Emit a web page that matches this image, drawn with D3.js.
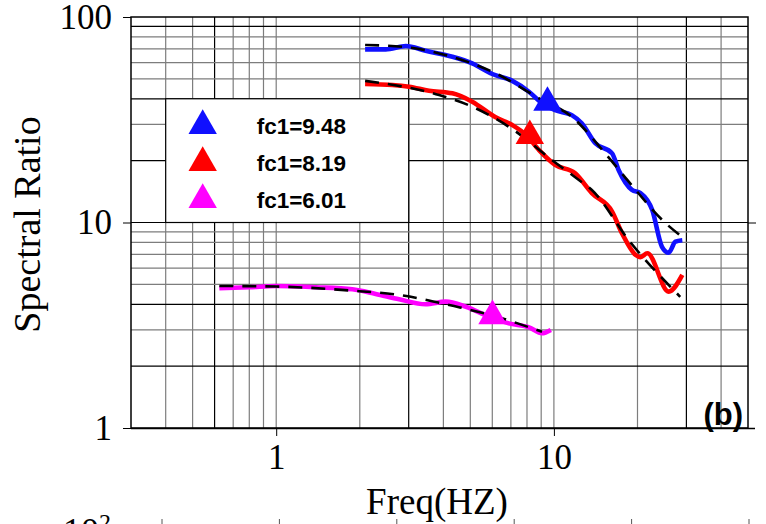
<!DOCTYPE html>
<head>
  <meta charset="utf-8">
  <script src="https://cdn.jsdelivr.net/npm/d3@7"></script>
  <style>
    body { margin: 0; background: #fff; }
    svg { display: block; }
  </style>
</head>
<body>
<div id="chart"></div>
<script>
const freqBlue = [2.09, 2.48, 2.93, 3.45, 4.31, 5.08, 6.0, 7.08, 8.13, 9.08, 10.1, 11.6, 12.6, 14.1, 16.2, 17.1, 19.1, 20.5, 22.6, 24.5, 25.9, 27.4, 29.0]
const ratioBlue = [69.6, 69.6, 72.2, 68.5, 64.1, 59.5, 52.8, 48.9, 43.3, 38.0, 35.2, 33.3, 30.4, 24.3, 21.7, 18.0, 14.4, 13.9, 11.5, 7.62, 7.13, 8.07, 8.2]

const freqRed = [2.09, 2.62, 3.01, 3.55, 4.31, 5.08, 6.17, 7.08, 7.93, 8.84, 10.1, 11.9, 13.7, 16.2, 17.6, 19.7, 20.5, 21.7, 25.9, 29.0]
const ratioRed = [47.2, 46.7, 45.8, 43.8, 42.5, 38.7, 32.5, 29.8, 26.7, 22.5, 19.1, 17.4, 13.9, 11.3, 8.85, 6.95, 6.78, 7.08, 4.61, 5.56]

const freqMag = [0.624, 0.80, 1.0, 1.39, 1.88, 2.28, 2.77, 3.45, 4.08, 4.82, 5.84, 6.88, 8.14, 9.06, 9.75]
const ratioMag = [4.79, 4.84, 4.91, 4.84, 4.73, 4.49, 4.23, 4.0, 4.12, 3.89, 3.48, 3.23, 3.09, 2.89, 3.0]

// fitted curves (dashed)
const fitFreqBlue = [2.09, 2.93, 4.19, 6.17, 8.84, 11.6, 15.3, 18.6, 25.3, 29.0]
const fitBlue = [73.1, 71.3, 64.6, 53.2, 40.2, 32.7, 21.7, 15.8, 9.9, 8.5]
const fitFreqRed = [2.09, 3.86, 5.08, 7.08, 9.86, 12.3, 13.7, 18.6, 28.5]
const fitRed = [48.9, 41.7, 36.6, 28.5, 20.1, 16.1, 14.4, 8.2, 4.35]
const fitFreqMag = [0.624, 1.0, 1.83, 2.77, 4.55, 5.9, 9.06]
const fitMag = [4.91, 4.88, 4.67, 4.44, 3.87, 3.55, 2.94]

// corner frequencies
const fcValues = [9.48, 8.19, 6.01]
const fcRatios = [38.3, 26.4, 3.51]
const fcLabels = ['fc1=9.48', 'fc1=8.19', 'fc1=6.01']
const colors = ['#1010ff', '#ff0000', '#ff00ff']

const xTicks = [1, 10]
const yTicks = [1, 10, 100]
const xGrid = [0.4, 0.5, 0.6, 0.7, 0.8, 0.9, 1, 2, 3, 4, 5, 6, 7, 8, 9, 10, 20, 30, 40]
const xGridDark = [0.6, 3, 30]
const yGrid = [2, 3, 4, 5, 6, 7, 8, 9, 10, 20, 30, 40, 50, 60, 70, 80, 90]
const yGridDark = [2, 4, 10, 20, 40, 90]

const width = 766, height = 524
const margin = { top: 17, right: 18, bottom: 96, left: 131 }

const svg = d3.select('#chart').append('svg')
  .attr('width', width).attr('height', height)
  .attr('viewBox', [0, 0, width, height])

const x = d3.scaleLog().domain([0.3, 50]).range([margin.left, width - margin.right])
const y = d3.scaleLog().domain([1, 100]).range([height - margin.bottom, margin.top])

const serif = '"Liberation Serif", "Times New Roman", serif'
const sans = '"Liberation Sans", Arial, sans-serif'

// grid
const grid = svg.append('g')
grid.selectAll('.vx').data(xGrid).join('line')
  .attr('x1', d => x(d)).attr('x2', d => x(d))
  .attr('y1', y(1)).attr('y2', y(100))
  .attr('stroke', d => xGridDark.includes(d) ? '#000' : '#7d7d7d')
  .attr('stroke-width', 1.2)
grid.selectAll('.hy').data(yGrid).join('line')
  .attr('y1', d => y(d)).attr('y2', d => y(d))
  .attr('x1', x(0.3)).attr('x2', x(50))
  .attr('stroke', d => yGridDark.includes(d) ? '#000' : '#7d7d7d')
  .attr('stroke-width', 1.2)

// frame
svg.append('rect')
  .attr('x', x(0.3)).attr('y', y(100))
  .attr('width', x(50) - x(0.3)).attr('height', y(1) - y(100))
  .attr('fill', 'none').attr('stroke', '#000').attr('stroke-width', 1.5)

// axes
svg.append('g')
  .attr('transform', `translate(0,${y(1)})`)
  .call(d3.axisBottom(x).tickValues(xTicks).tickSize(8).tickFormat(d3.format('d')))
  .call(g => g.select('.domain').attr('d', `M${x(0.3)},0.5H${x(50) + 7}`).attr('stroke-width', 1.5))
  .call(g => g.selectAll('.tick text')
    .attr('font-family', serif).attr('font-size', 35).attr('fill', '#000')
    .attr('y', 16).attr('dy', '0.71em'))

svg.append('g')
  .attr('transform', `translate(${x(0.3)},0)`)
  .call(d3.axisLeft(y).tickValues(yTicks).tickSize(8).tickFormat(d3.format('d')))
  .call(g => g.select('.domain').remove())
  .call(g => g.selectAll('.tick text')
    .attr('font-family', serif).attr('font-size', 35).attr('fill', '#000')
    .attr('x', -19))

svg.append('g')
  .attr('transform', `translate(${x(50)},0)`)
  .call(d3.axisRight(y).tickValues([10]).tickSize(8).tickFormat(''))
  .call(g => g.select('.domain').remove())

// legend box
const lg = svg.append('g')
lg.append('rect')
  .attr('x', x(0.4)).attr('y', y(40))
  .attr('width', x(3) - x(0.4)).attr('height', y(10) - y(40))
  .attr('fill', '#fff').attr('stroke', '#000').attr('stroke-width', 1.2)
fcLabels.forEach((label, i) => {
  const cy = y(40) + 27 + i * 37
  lg.append('path')
    .attr('d', d3.symbol(d3.symbolTriangle, 350)())
    .attr('transform', `translate(${x(0.4) + 37},${cy})`)
    .attr('fill', colors[i])
  lg.append('text')
    .attr('x', x(0.4) + 91).attr('y', cy + 8)
    .attr('font-family', sans).attr('font-weight', 'bold').attr('font-size', 22.5)
    .text(label)
})

// data lines
const line = d3.line().x(d => x(d[0])).y(d => y(d[1])).curve(d3.curveMonotoneX)
const series = [
  [freqBlue, ratioBlue, fitFreqBlue, fitBlue],
  [freqRed, ratioRed, fitFreqRed, fitRed],
  [freqMag, ratioMag, fitFreqMag, fitMag],
]
series.forEach(([fx, fy], i) => {
  svg.append('path')
    .attr('d', line(fx.map((f, j) => [f, fy[j]])))
    .attr('fill', 'none').attr('stroke', colors[i])
    .attr('stroke-width', 4.6).attr('stroke-linejoin', 'round')
})
series.forEach(([, , gx, gy]) => {
  svg.append('path')
    .attr('d', line(gx.map((f, j) => [f, gy[j]])))
    .attr('fill', 'none').attr('stroke', '#000')
    .attr('stroke-width', 2.6).attr('stroke-dasharray', '14,9')
})

// corner frequency markers
svg.append('g').selectAll('path').data(fcValues).join('path')
  .attr('d', d3.symbol(d3.symbolTriangle, 350)())
  .attr('transform', (d, i) => `translate(${x(d)},${y(fcRatios[i])})`)
  .attr('fill', (d, i) => colors[i])

// panel tag
svg.append('text')
  .attr('x', x(50) - 5).attr('y', y(1) - 3)
  .attr('text-anchor', 'end')
  .attr('font-family', sans).attr('font-weight', 'bold').attr('font-size', 31)
  .text('(b)')

// axis titles
svg.append('text')
  .attr('transform', `translate(40,${(y(1) + y(100)) / 2 + 2}) rotate(-90)`)
  .attr('text-anchor', 'middle')
  .attr('font-family', serif).attr('font-size', 38)
  .text('Spectral Ratio')
svg.append('text')
  .attr('x', 437).attr('y', 514)
  .attr('text-anchor', 'middle')
  .attr('font-family', serif).attr('font-size', 37)
  .text('Freq(HZ)')

// cut-off piece of the next panel at the bottom edge
const xNext = d3.scaleLinear().domain([0, 5]).range([162, 749])
svg.append('g').selectAll('line').data(d3.range(6)).join('line')
  .attr('x1', d => xNext(d)).attr('x2', d => xNext(d))
  .attr('y1', 519).attr('y2', 524)
  .attr('stroke', '#555').attr('stroke-width', 1)
const nextLabel = svg.append('text')
  .attr('x', 63).attr('y', 543)
  .attr('font-family', serif).attr('font-size', 36)
nextLabel.append('tspan').text('10')
nextLabel.append('tspan').attr('font-size', 24).attr('dy', -13).text('2')
</script>
</body>
